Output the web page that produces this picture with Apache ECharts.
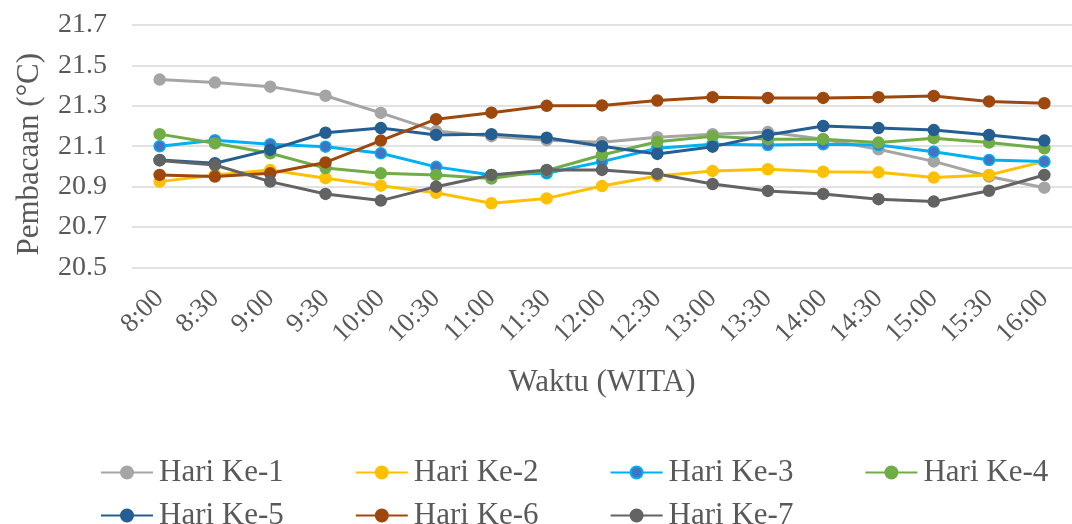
<!DOCTYPE html>
<html>
<head>
<meta charset="utf-8">
<script src="https://cdn.jsdelivr.net/npm/echarts@6/dist/echarts.min.js"></script>
<style>
  html, body { margin: 0; padding: 0; background: #fff; }
  #chart { width: 1072px; height: 524px; }
</style>
</head>
<body>
<div id="chart"></div>
<script>
const times = ['8:00', '8:30', '9:00', '9:30', '10:00', '10:30', '11:00', '11:30', '12:00',
  '12:30', '13:00', '13:30', '14:00', '14:30', '15:00', '15:30', '16:00']

const hari1 = [21.43, 21.415, 21.395, 21.35, 21.265, 21.175, 21.15, 21.13, 21.12, 21.145, 21.16, 21.17, 21.135, 21.085, 21.025, 20.95, 20.895]
const hari2 = [20.925, 20.958, 20.982, 20.942, 20.905, 20.87, 20.818, 20.842, 20.903, 20.953, 20.978, 20.986, 20.974, 20.971, 20.945, 20.958, 21.025]
const hari3 = [21.1, 21.13, 21.11, 21.098, 21.065, 20.998, 20.958, 20.966, 21.024, 21.09, 21.11, 21.106, 21.11, 21.106, 21.073, 21.032, 21.024]
const hari4 = [21.16, 21.115, 21.065, 20.992, 20.966, 20.958, 20.94, 20.98, 21.057, 21.122, 21.15, 21.135, 21.135, 21.118, 21.14, 21.118, 21.09]
const hari5 = [21.032, 21.016, 21.082, 21.167, 21.19, 21.156, 21.16, 21.142, 21.1, 21.062, 21.098, 21.156, 21.2, 21.19, 21.18, 21.156, 21.128]
const hari6 = [20.958, 20.95, 20.966, 21.02, 21.128, 21.234, 21.266, 21.3, 21.302, 21.326, 21.343, 21.339, 21.339, 21.343, 21.349, 21.322, 21.313]
const hari7 = [21.03, 21.007, 20.925, 20.864, 20.831, 20.9, 20.958, 20.983, 20.983, 20.963, 20.913, 20.879, 20.864, 20.838, 20.826, 20.88, 20.958]

const names = ['Hari Ke-1', 'Hari Ke-2', 'Hari Ke-3', 'Hari Ke-4', 'Hari Ke-5', 'Hari Ke-6', 'Hari Ke-7']
const lineColors = ['#A5A5A5', '#FFC000', '#00B0F0', '#70AD47', '#255E91', '#9E480E', '#636363']
const fillColors = ['#A5A5A5', '#FFC000', '#4472C4', '#70AD47', '#255E91', '#9E480E', '#636363']
const allData = [hari1, hari2, hari3, hari4, hari5, hari6, hari7]

const font = 'Liberation Serif'
const textColor = '#595959'

const chart = echarts.init(document.getElementById('chart'))

const series = names.map((name, i) => ({
  name: name,
  type: 'line',
  data: allData[i],
  symbol: 'circle',
  symbolSize: 11,
  lineStyle: { color: lineColors[i], width: 3 },
  itemStyle: { color: fillColors[i], borderColor: lineColors[i], borderWidth: 1.5 },
  emphasis: { disabled: true },
  animation: false
}))

// two legend rows, like the excel layout
const legendCommon = {
  itemWidth: 52,
  itemHeight: 15,
  itemGap: 71,
  padding: 0,
  left: 100,
  width: 972,
  textStyle: { fontFamily: font, fontSize: 31, color: textColor, padding: [0, 0, 0, 1] }
}

const option = {
  animation: false,
  grid: { left: 132, top: 25, width: 950, height: 242.5 },
  legend: [
    Object.assign({}, legendCommon, { top: 457, data: names.slice(0, 4) }),
    Object.assign({}, legendCommon, { top: 500, data: names.slice(4) })
  ],
  xAxis: {
    type: 'category',
    data: times,
    boundaryGap: true,
    axisLine: { show: false },
    axisTick: { show: false },
    axisLabel: {
      rotate: 45,
      interval: 0,
      margin: 27,
      fontFamily: font,
      fontSize: 27,
      color: textColor
    },
    name: 'Waktu (WITA)',
    nameLocation: 'middle',
    nameGap: 100,
    nameTextStyle: { fontFamily: font, fontSize: 31, color: textColor }
  },
  yAxis: {
    type: 'value',
    min: 20.5,
    max: 21.7,
    interval: 0.2,
    axisLine: { show: false },
    axisTick: { show: false },
    axisLabel: {
      margin: 25,
      fontFamily: font,
      fontSize: 28,
      color: textColor,
      formatter: v => v.toFixed(1)
    },
    splitLine: { lineStyle: { color: '#D9D9D9', width: 1.5 } },
    name: 'Pembacaan (°C)',
    nameLocation: 'middle',
    nameGap: 87,
    nameTextStyle: { fontFamily: font, fontSize: 31, color: textColor, padding: [0, 16, 0, 0] }
  },
  series: series
}

chart.setOption(option)
</script>
</body>
</html>
